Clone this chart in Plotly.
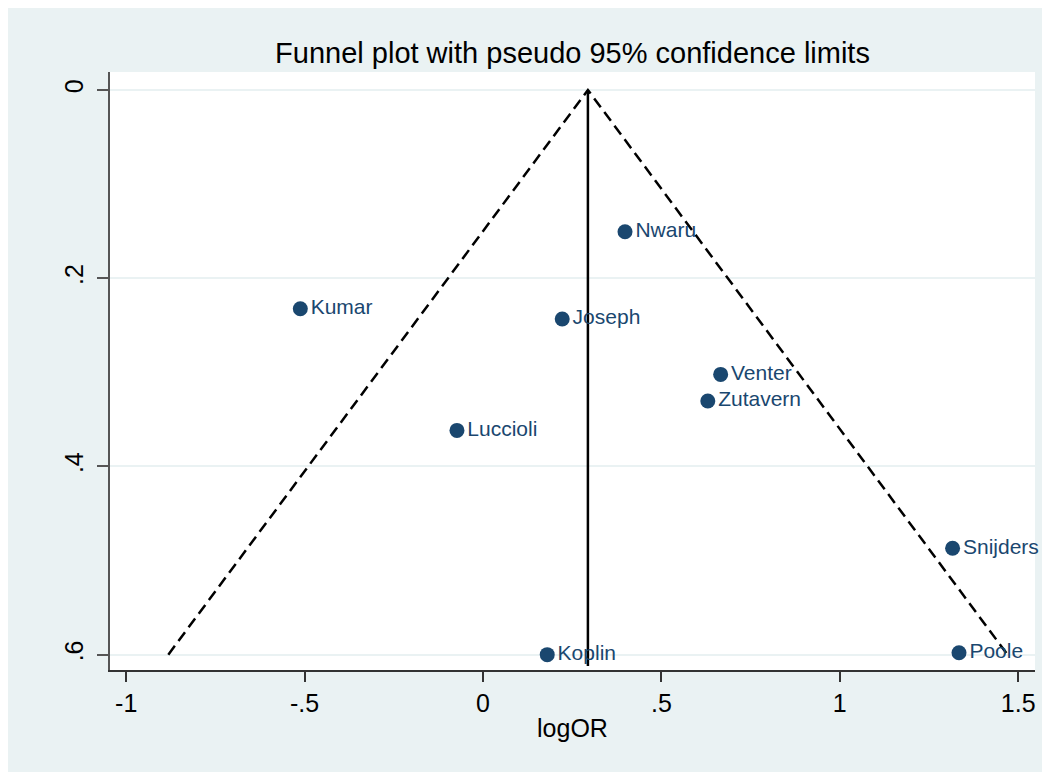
import plotly.graph_objects as go

studies = ["Nwaru", "Kumar", "Joseph", "Venter", "Zutavern", "Luccioli", "Snijders", "Poole", "Koplin"]
log_or = [0.398, -0.512, 0.222, 0.666, 0.630, -0.073, 1.316, 1.334, 0.180]
se_log_or = [0.1506, 0.2325, 0.2434, 0.3022, 0.3305, 0.3617, 0.487, 0.598, 0.600]

pooled_x = [0.294, 0.294]
pooled_y = [0.0, 0.612]
funnel_x = [-0.882, 0.294, 1.470]
funnel_y = [0.6, 0.0, 0.6]

x_ticks = [-1, -0.5, 0, 0.5, 1, 1.5]
x_tick_labels = ["-1", "-.5", "0", ".5", "1", "1.5"]
y_ticks = [0, 0.2, 0.4, 0.6]
y_tick_labels = ["0", ".2", ".4", ".6"]

NAVY = "#1A476F"
BG = "#EAF2F3"
FONT = "Liberation Sans, Arial, sans-serif"

fig = go.Figure()
fig.add_trace(go.Scatter(x=funnel_x, y=funnel_y, mode="lines",
                         line=dict(color="black", width=2.5, dash="11px,6px"),
                         hoverinfo="skip", showlegend=False))
fig.add_trace(go.Scatter(x=pooled_x, y=pooled_y, mode="lines",
                         line=dict(color="black", width=2.5),
                         hoverinfo="skip", showlegend=False))
fig.add_trace(go.Scatter(x=log_or, y=se_log_or, mode="markers+text",
                         text=studies, textposition="middle right",
                         textfont=dict(color=NAVY, size=21, family=FONT),
                         marker=dict(color=NAVY, size=15),
                         cliponaxis=False, showlegend=False))

# page has an 8px body margin; figure offset accordingly
W, H = 1050, 772
ml, mr, mt, mb = 102, 23, 64, 110
pw = W - ml - mr

fig.update_layout(
    width=W, height=H,
    margin=dict(l=ml, r=mr, t=mt, b=mb, pad=0),
    paper_bgcolor=BG, plot_bgcolor="white",
    font=dict(family=FONT, color="black"),
    title=dict(text="Funnel plot with pseudo 95% confidence limits",
               x=(ml + pw / 2) / W, xanchor="center",
               y=1 - 45 / H, yanchor="middle", yref="container",
               font=dict(size=29, color="black", family=FONT)),
    xaxis=dict(range=[-1.0454, 1.547], tickvals=x_ticks, ticktext=x_tick_labels,
               showgrid=False, zeroline=False, showline=True, linecolor="#333", linewidth=1.5,
               ticks="outside", ticklen=10, tickwidth=1.5, tickcolor="#333",
               tickfont=dict(size=25, family=FONT, color="black"),
               title=dict(text="logOR", font=dict(size=25, family=FONT, color="black"), standoff=4)),
    yaxis=dict(range=[0.6163, -0.0191], tickvals=y_ticks, ticktext=y_tick_labels,
               showgrid=True, gridcolor=BG, gridwidth=2, zeroline=False,
               showline=True, linecolor="#555", linewidth=1.5,
               ticks="outside", ticklen=11, tickwidth=1.5, tickcolor="#555",
               tickangle=-90, ticklabelstandoff=4,
               tickfont=dict(size=25, family=FONT, color="black")),
)

fig.write_html("out.html")
